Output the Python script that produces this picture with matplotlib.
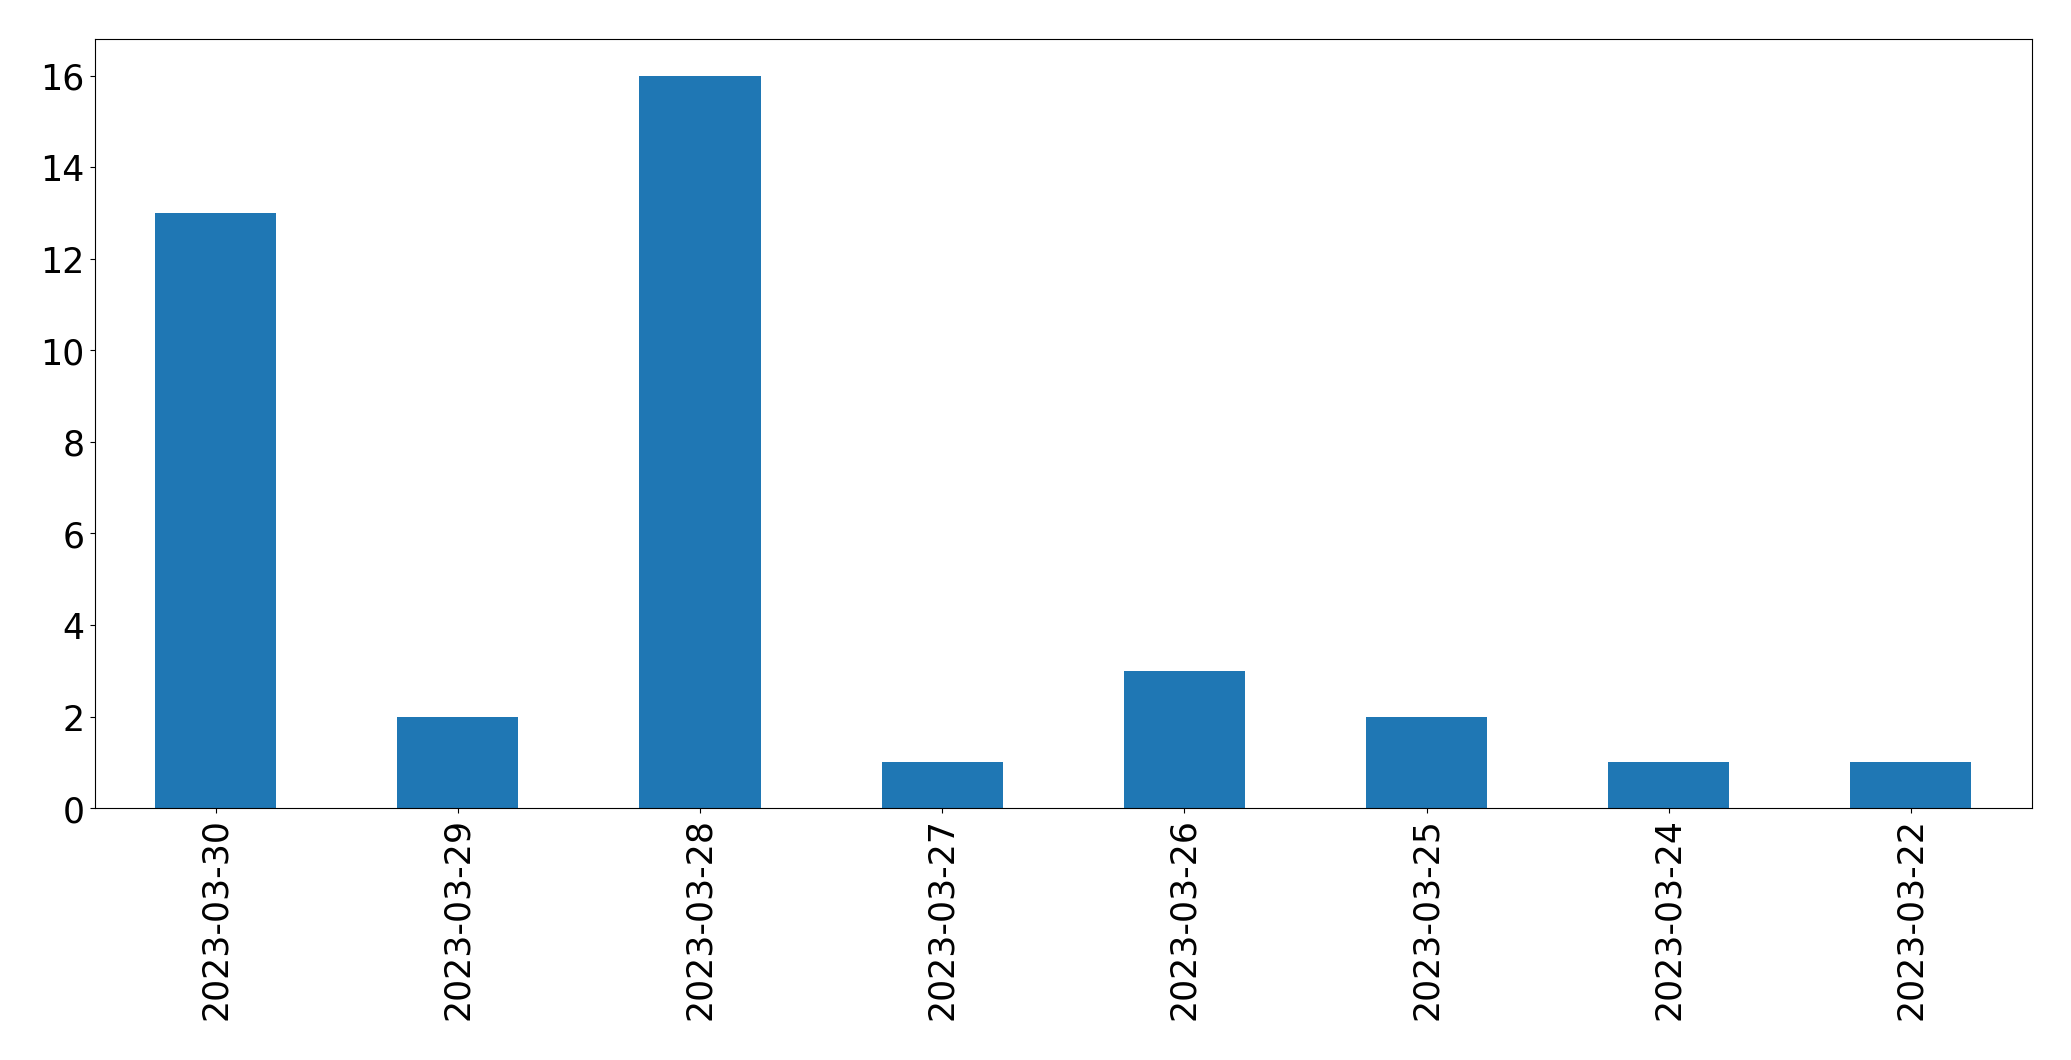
import pandas as pd
import matplotlib
matplotlib.use('Agg')
import matplotlib.pyplot as plt

dates = ['2023-03-30', '2023-03-29', '2023-03-28', '2023-03-27',
         '2023-03-26', '2023-03-25', '2023-03-24', '2023-03-22']
counts = [13, 2, 16, 1, 3, 2, 1, 1]

s = pd.Series(counts, index=dates)

fig, ax = plt.subplots(figsize=(20.71, 10.605), dpi=100)
s.plot(kind='bar', ax=ax, fontsize=25)
fig.subplots_adjust(left=94.5 / 2071, right=2032 / 2071,
                    top=1 - 39.5 / 1061, bottom=1 - 809 / 1061)
fig.savefig('out.png', dpi=100)
